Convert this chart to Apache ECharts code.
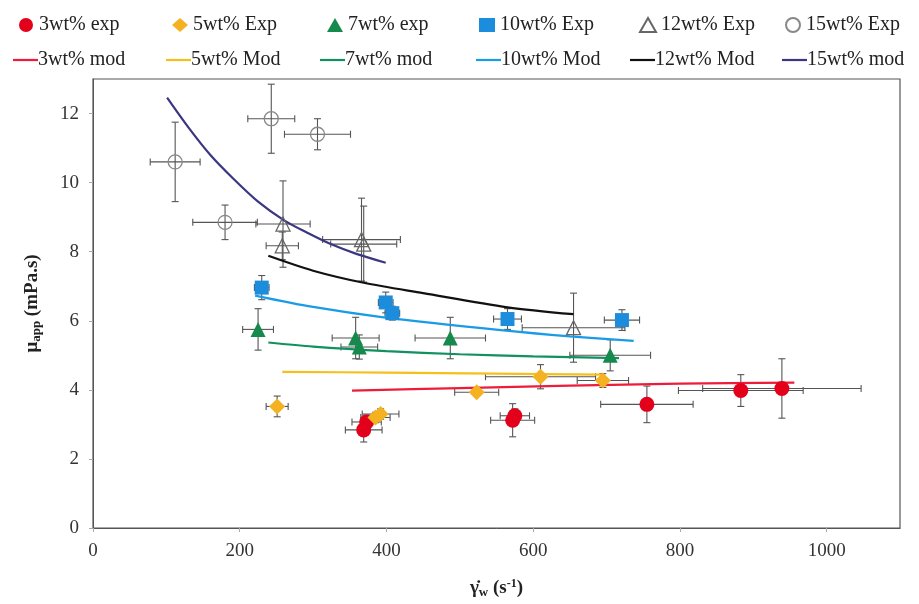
<!DOCTYPE html>
<html><head><meta charset="utf-8">
<script src="https://cdn.jsdelivr.net/npm/echarts@6/dist/echarts.min.js"></script>
<style>html,body{margin:0;padding:0;background:#fff}#c{width:919px;height:604px}</style>
</head><body><div id="c"></div>
<script>
// ---- data ----
const exp3x = [369, 373, 572, 575, 755, 883, 939];
const exp3y = [2.84, 3.07, 3.12, 3.25, 3.58, 3.98, 4.04];
const exp3xe = [25, 20, 30, 20, 63, 85, 108];
const exp3ye = [0.35, 0.2, 0.48, 0.2, 0.53, 0.46, 0.86];

const exp5x = [251, 385, 392, 523, 610, 695];
const exp5y = [3.52, 3.2, 3.3, 3.93, 4.38, 4.27];
const exp5xe = [15, 20, 25, 30, 75, 35];
const exp5ye = [0.3, 0.15, 0.15, 0.1, 0.35, 0.2];

const exp7x = [225, 358, 363, 487, 705];
const exp7y = [5.75, 5.5, 5.24, 5.5, 5.0];
const exp7xe = [21, 32, 25, 48, 55];
const exp7ye = [0.6, 0.6, 0.35, 0.6, 0.45];

const exp10x = [230, 399, 408, 565, 721];
const exp10y = [6.96, 6.53, 6.22, 6.05, 6.02];
const exp10xe = [10, 10, 10, 19, 24];
const exp10ye = [0.35, 0.3, 0.2, 0.3, 0.3];

const exp12x = [259, 258, 366, 369, 655];
const exp12y = [8.8, 8.17, 8.35, 8.22, 5.8];
const exp12xe = [37, 22, 53, 45, 70];
const exp12ye = [1.25, 0.4, 1.2, 1.1, 1.0];

const exp15x = [112, 180, 243, 306];
const exp15y = [10.6, 8.85, 11.85, 11.4];
const exp15xe = [34, 44, 32, 45];
const exp15ye = [1.15, 0.5, 1.0, 0.45];

const mod3x = [353, 500, 650, 800, 956];
const mod3y = [3.98, 4.05, 4.12, 4.18, 4.21];
const mod5x = [258, 400, 550, 696];
const mod5y = [4.52, 4.5, 4.47, 4.44];
const mod7x = [239, 300, 400, 500, 600, 717];
const mod7y = [5.37, 5.25, 5.12, 5.03, 4.97, 4.92];
const mod10x = [221, 300, 396, 556, 650, 737];
const mod10y = [6.73, 6.4, 6.1, 5.73, 5.55, 5.42];
const mod12x = [239, 300, 369, 450, 565, 655];
const mod12y = [7.88, 7.45, 7.1, 6.8, 6.39, 6.19];
const mod15x = [101, 130, 160, 191, 225, 261, 292, 324, 360, 399];
const mod15y = [12.46, 11.6, 10.8, 10.12, 9.45, 8.9, 8.55, 8.22, 7.93, 7.68];

const expNames = ['3wt% exp', '5wt% Exp', '7wt% exp', '10wt% Exp', '12wt% Exp', '15wt% Exp'];
const modNames = ['3wt% mod', '5wt% Mod', '7wt% mod', '10wt% Mod', '12wt% Mod', '15wt% mod'];
const xTicks = [0, 200, 400, 600, 800, 1000];
const yTicks = [0, 2, 4, 6, 8, 10, 12];

// ---- build ----
const zip = (a, b) => a.map((v, i) => [v, b[i]]);
const zip4 = (a, b, c, d) => a.map((v, i) => [v, b[i], c[i], d[i]]);
const FONT = 'Liberation Serif';

const expSets = [
  {x: exp3x, y: exp3y, xe: exp3xe, ye: exp3ye, sym: 'circle', size: 15, color: '#e3001b', border: null},
  {x: exp5x, y: exp5y, xe: exp5xe, ye: exp5ye, sym: 'diamond', size: 16, color: '#f4b223', border: null},
  {x: exp7x, y: exp7y, xe: exp7xe, ye: exp7ye, sym: 'triangle', size: 15, color: '#168a4c', border: null},
  {x: exp10x, y: exp10y, xe: exp10xe, ye: exp10ye, sym: 'rect', size: 14, color: '#1c8ddd', border: null},
  {x: exp12x, y: exp12y, xe: exp12xe, ye: exp12ye, sym: 'triangle', size: 14, color: 'rgba(255,255,255,0)', border: '#666'},
  {x: exp15x, y: exp15y, xe: exp15xe, ye: exp15ye, sym: 'circle', size: 14, color: 'rgba(255,255,255,0)', border: '#888'}
];
const modSets = [
  {x: mod3x, y: mod3y, color: '#ee1c3a'},
  {x: mod5x, y: mod5y, color: '#f6c01a'},
  {x: mod7x, y: mod7y, color: '#119060'},
  {x: mod10x, y: mod10y, color: '#1a9be6'},
  {x: mod12x, y: mod12y, color: '#111111'},
  {x: mod15x, y: mod15y, color: '#3a3780'}
];

function errRender(params, api) {
  const x = api.value(0), y = api.value(1), xe = api.value(2), ye = api.value(3);
  const c = api.coord([x, y]);
  const l = api.coord([x - xe, y]), r = api.coord([x + xe, y]);
  const t = api.coord([x, y + ye]), b = api.coord([x, y - ye]);
  const cap = 3.5;
  const st = {stroke: '#555', lineWidth: 1.1};
  const seg = (x1, y1, x2, y2) => ({type: 'line', shape: {x1, y1, x2, y2}, style: st});
  return {type: 'group', children: [
    seg(l[0], c[1], r[0], c[1]),
    seg(l[0], c[1] - cap, l[0], c[1] + cap),
    seg(r[0], c[1] - cap, r[0], c[1] + cap),
    seg(c[0], t[1], c[0], b[1]),
    seg(c[0] - cap, t[1], c[0] + cap, t[1]),
    seg(c[0] - cap, b[1], c[0] + cap, b[1])
  ]};
}

const series = [];
expSets.forEach((s, i) => {
  series.push({
    type: 'custom', name: expNames[i] + ' err', renderItem: errRender,
    data: zip4(s.x, s.y, s.xe, s.ye), z: 1, silent: true, clip: true,
    encode: {x: 0, y: 1}
  });
});
modSets.forEach((s, i) => {
  series.push({
    type: 'line', name: modNames[i], data: zip(s.x, s.y), smooth: 0.3,
    symbol: 'none', showSymbol: false, lineStyle: {color: s.color, width: 2.2}, itemStyle: {color: s.color}, z: 3
  });
});
expSets.forEach((s, i) => {
  series.push({
    type: 'scatter', name: expNames[i], data: zip(s.x, s.y), symbol: s.sym, symbolSize: s.size,
    itemStyle: s.border ? {color: s.color, borderColor: s.border, borderWidth: 1.3, opacity: 1} : {color: s.color, opacity: 1},
    z: 4
  });
});

const legendLeft = [14, 167, 322, 474, 634, 780];
const legendLeft2 = [8, 161, 315, 471, 625, 777];
const legends = [];
expNames.forEach((n, i) => legends.push({
  data: [n], left: legendLeft[i], top: 10, itemWidth: 16, itemHeight: 14, itemGap: 6,
  textStyle: {fontFamily: FONT, fontSize: 20, color: '#222'}
}));
modNames.forEach((n, i) => legends.push({
  data: [{name: n, icon: 'rect'}], left: legendLeft2[i], top: 45, itemWidth: 25, itemHeight: 2.2, itemGap: 2,
  textStyle: {fontFamily: FONT, fontSize: 20, color: '#222', padding: [0, 0, 0, -5]}
}));

const chart = echarts.init(document.getElementById('c'), null, {renderer: 'canvas'});
chart.setOption({
  backgroundColor: '#fff',
  animation: false,
  legend: legends,
  grid: {left: 93, right: 19, top: 79, bottom: 73, show: true, borderColor: '#555', borderWidth: 1.2, backgroundColor: 'transparent'},
  xAxis: {
    type: 'value', min: 0, max: 1100, interval: 200,
    axisLine: {show: true, lineStyle: {color: '#555'}},
    axisTick: {show: true, length: 4, lineStyle: {color: '#aaa'}},
    splitLine: {show: false},
    axisLabel: {fontFamily: FONT, fontSize: 19, color: '#333', margin: 14, showMaxLabel: false,
      formatter: v => xTicks.includes(v) ? String(v) : ''},
    name: '{b|γ̇}{s|w}{b| (s}{p|-1}{b|)}', nameLocation: 'middle', nameGap: 50,
    nameTextStyle: {rich: {
      b: {fontFamily: FONT, fontSize: 19, fontWeight: 'bold', color: '#222'},
      s: {fontFamily: FONT, fontSize: 13, fontWeight: 'bold', color: '#222', verticalAlign: 'bottom', padding: [8, 0, 0, 0]},
      p: {fontFamily: FONT, fontSize: 12, fontWeight: 'bold', color: '#222', verticalAlign: 'top', padding: [0, 0, 8, 0]}
    }}
  },
  yAxis: {
    type: 'value', min: 0, max: 13, interval: 2,
    axisLine: {show: true, lineStyle: {color: '#555'}},
    axisTick: {show: true, length: 4, lineStyle: {color: '#aaa'}},
    splitLine: {show: false},
    axisLabel: {fontFamily: FONT, fontSize: 19, color: '#333', margin: 14, showMaxLabel: false,
      formatter: v => yTicks.includes(v) ? String(v) : ''},
    name: '{b|μ}{s|app}{b| (mPa.s)}', nameLocation: 'middle', nameGap: 50, nameRotate: 90,
    nameTextStyle: {rich: {
      b: {fontFamily: FONT, fontSize: 19, fontWeight: 'bold', color: '#222'},
      s: {fontFamily: FONT, fontSize: 13, fontWeight: 'bold', color: '#222', verticalAlign: 'bottom', padding: [8, 0, 0, 0]}
    }}
  },
  series: series
});
</script></body></html>
